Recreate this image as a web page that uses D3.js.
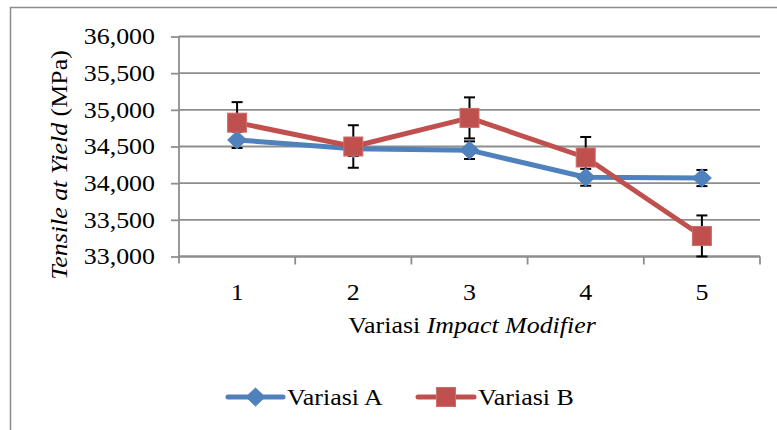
<!DOCTYPE html>
<html>
<head>
<meta charset="utf-8">
<script src="https://cdn.jsdelivr.net/npm/d3@7/dist/d3.min.js"></script>
<style>
  html, body { margin: 0; padding: 0; background: #fff; }
</style>
</head>
<body>
<svg id="chart" width="777" height="430"></svg>
<script>
// Tensile at yield for each impact-modifier variation
const categories = ["1", "2", "3", "4", "5"];
const seriesNames = ["Variasi A", "Variasi B"];
const valuesA = [34590, 34470, 34450, 34080, 34070];
const errorsA = [110, 100, 120, 115, 110];
const valuesB = [34825, 34500, 34890, 34350, 33280];
const errorsB = [280, 290, 280, 280, 280];
const yTicks = [33000, 33500, 34000, 34500, 35000, 35500, 36000];

const colors = { "Variasi A": "#4F81BD", "Variasi B": "#C0504D" };
const series = [
  { name: seriesNames[0], values: valuesA, errors: errorsA, shape: "diamond" },
  { name: seriesNames[1], values: valuesB, errors: errorsB, shape: "square" }
];

const svg = d3.select("#chart");
const plot = { left: 179, right: 760, top: 36.5, bottom: 256.5 };
const fontSize = 24;
const stretch = 1.08;
const serif = "Times New Roman";

// outer chart frame
svg.append("rect")
  .attr("x", 10.5).attr("y", 7.5).attr("width", 800).attr("height", 500)
  .attr("fill", "none").attr("stroke", "#8c8c8c").attr("stroke-width", 1.5);

const x = d3.scaleBand().domain(categories).range([plot.left, plot.right]);
const y = d3.scaleLinear().domain([33000, 36000]).range([plot.bottom, plot.top]);
const cx = d => x(d) + x.bandwidth() / 2;

// horizontal gridlines
svg.append("g").selectAll("line").data(yTicks).join("line")
  .attr("x1", plot.left).attr("x2", plot.right)
  .attr("y1", d => y(d)).attr("y2", d => y(d))
  .attr("stroke", "#8e8e8e").attr("stroke-width", 1.8);

// y axis line and tick marks
const yAxis = svg.append("g").attr("transform", `translate(${plot.left},0)`)
  .call(d3.axisLeft(y).tickValues(yTicks).tickSize(8).tickFormat(() => ""));
yAxis.select(".domain").attr("stroke", "#8e8e8e").attr("stroke-width", 1.8)
  .attr("d", `M0,${plot.top}V${plot.bottom + 7}`);
yAxis.selectAll(".tick line").attr("stroke", "#8e8e8e").attr("stroke-width", 1.8);
yAxis.selectAll(".tick text").remove();

// y tick labels
svg.append("g").selectAll("text").data(yTicks).join("text")
  .attr("transform", d => `translate(${plot.left - 24},${y(d)}) scale(${stretch},1)`)
  .attr("text-anchor", "end").attr("dy", "0.33em")
  .attr("font-family", serif).attr("font-size", fontSize).attr("fill", "#000")
  .text(d3.format(","));

// x axis: baseline, tick marks on category boundaries, labels at centres
const xAxisG = svg.append("g").attr("transform", `translate(0,${plot.bottom})`);
xAxisG.append("line").attr("x1", plot.left).attr("x2", plot.right)
  .attr("stroke", "#8e8e8e").attr("stroke-width", 1.8);
const bounds = categories.map(c => x(c)).concat([plot.right]).slice(1);
xAxisG.selectAll("line.tick").data(bounds).join("line").attr("class", "tick")
  .attr("x1", d => d).attr("x2", d => d).attr("y1", 0).attr("y2", 8)
  .attr("stroke", "#8e8e8e").attr("stroke-width", 1.8);
xAxisG.selectAll("text").data(categories).join("text")
  .attr("transform", d => `translate(${cx(d)},43) scale(${stretch},1)`)
  .attr("text-anchor", "middle")
  .attr("font-family", serif).attr("font-size", fontSize).attr("fill", "#000")
  .text(d => d);

// axis titles
const xTitle = svg.append("text")
  .attr("transform", `translate(472,333) scale(${stretch},1)`)
  .attr("text-anchor", "middle")
  .attr("font-family", serif).attr("font-size", fontSize).attr("fill", "#000");
xTitle.append("tspan").text("Variasi ");
xTitle.append("tspan").attr("font-style", "italic").text("Impact Modifier");

const yTitle = svg.append("text")
  .attr("transform", `translate(67,165) rotate(-90) scale(${stretch},1)`)
  .attr("text-anchor", "middle")
  .attr("font-family", serif).attr("font-size", fontSize).attr("fill", "#000");
yTitle.append("tspan").attr("font-style", "italic").text("Tensile at Yield");
yTitle.append("tspan").text(" (MPa)");

// error bars
series.forEach(s => {
  const g = svg.append("g").attr("stroke", "#000").attr("stroke-width", 2);
  categories.forEach((c, i) => {
    const hi = y(s.values[i] + s.errors[i]);
    const lo = y(s.values[i] - s.errors[i]);
    g.append("line").attr("x1", cx(c)).attr("x2", cx(c)).attr("y1", hi).attr("y2", lo);
    g.append("line").attr("x1", cx(c) - 5.5).attr("x2", cx(c) + 5.5).attr("y1", hi).attr("y2", hi);
    g.append("line").attr("x1", cx(c) - 5.5).attr("x2", cx(c) + 5.5).attr("y1", lo).attr("y2", lo);
  });
});

// lines
const line = d3.line().x((d, i) => cx(categories[i])).y(d => y(d));
series.forEach(s => {
  svg.append("path").datum(s.values)
    .attr("d", line).attr("fill", "none")
    .attr("stroke", colors[s.name]).attr("stroke-width", 5)
    .attr("stroke-linejoin", "round").attr("stroke-linecap", "round");
});

// markers
function marker(g, shape, px, py, color) {
  if (shape === "diamond") {
    g.append("path")
      .attr("d", `M${px},${py - 9}L${px + 9.5},${py}L${px},${py + 9}L${px - 9.5},${py}Z`)
      .attr("fill", color).attr("stroke", color).attr("stroke-width", 1).attr("stroke-linejoin", "round");
  } else {
    g.append("rect").attr("x", px - 9.5).attr("y", py - 9.5).attr("width", 19).attr("height", 19)
      .attr("fill", color).attr("stroke", "#cf6d6a").attr("stroke-width", 1);
  }
}
series.forEach(s => {
  const g = svg.append("g");
  s.values.forEach((v, i) => marker(g, s.shape, cx(categories[i]), y(v), colors[s.name]));
});

// legend
const legendItems = [
  { name: seriesNames[0], x1: 228, x2: 283, tx: 287 },
  { name: seriesNames[1], x1: 418, x2: 474, tx: 478 }
];
const lg = svg.append("g");
legendItems.forEach((it, k) => {
  const s = series[k];
  lg.append("line").attr("x1", it.x1).attr("x2", it.x2).attr("y1", 397).attr("y2", 397)
    .attr("stroke", colors[s.name]).attr("stroke-width", 5).attr("stroke-linecap", "round");
  marker(lg, s.shape, (it.x1 + it.x2) / 2, 397, colors[s.name]);
  lg.append("text").attr("transform", `translate(${it.tx},405) scale(${stretch},1)`)
    .attr("font-family", serif).attr("font-size", fontSize).attr("fill", "#000")
    .text(it.name);
});
</script>
</body>
</html>
